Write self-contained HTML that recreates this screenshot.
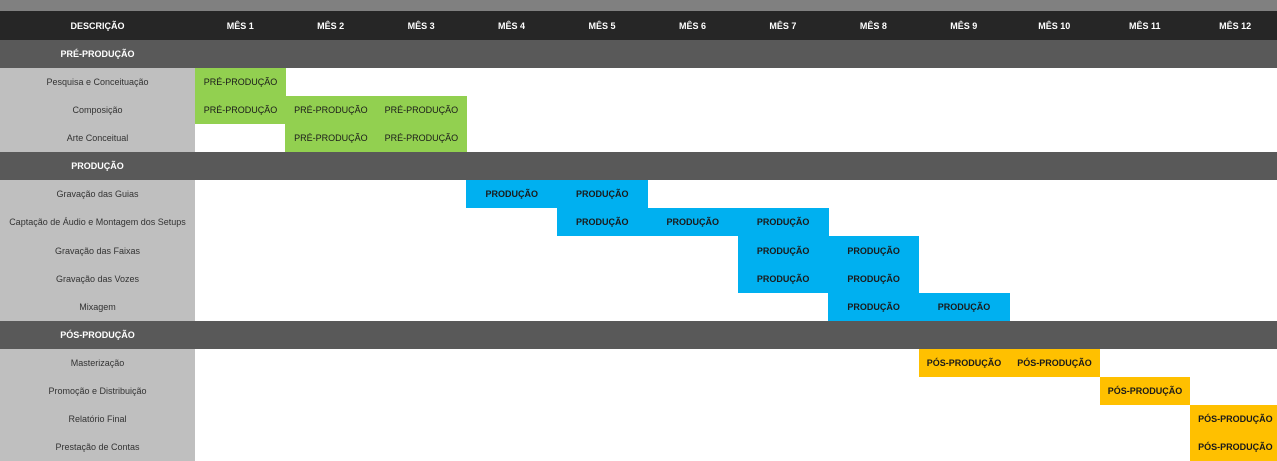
<!DOCTYPE html>
<html><head><meta charset="utf-8"><style>
body{margin:0;width:1277px;height:461px;overflow:hidden;background:#fff;position:relative;font-family:"Liberation Sans",sans-serif;font-size:9px;}
div.c{position:absolute;display:flex;align-items:center;justify-content:center;white-space:nowrap;}
</style></head><body>
<div class="c" style="left:0;top:0;width:1277px;height:11px;background:#808080"></div>
<div class="c" style="left:0;top:11px;width:1277px;height:29px;background:#262626"></div>
<script>
const R=document.body;
function box(x,y,w,h,bg,txt,col,bold){const d=document.createElement('div');d.className='c';d.style.cssText=`left:${x}px;top:${y}px;width:${w}px;height:${h}px;background:${bg};color:${col};font-weight:${bold?'bold':'normal'}`;d.textContent=txt||'';R.appendChild(d);}
const CW=90.45,X0=195,RH=28.07,Y0=40;
box(0,11,195,29,'transparent','DESCRIÇÃO','#fff',1);
for(let j=0;j<12;j++)box(X0+j*CW,11,CW,29,'transparent','MÊS '+(j+1),'#fff',1);
const G='#92d050',B='#00b0f0',O='#ffc000';
const rows=[
['S','PRÉ-PRODUÇÃO'],
['Pesquisa e Conceituação',[1],G,'PRÉ-PRODUÇÃO',0],
['Composição',[1,2,3],G,'PRÉ-PRODUÇÃO',0],
['Arte Conceitual',[2,3],G,'PRÉ-PRODUÇÃO',0],
['S','PRODUÇÃO'],
['Gravação das Guias',[4,5],B,'PRODUÇÃO',1],
['Captação de Áudio e Montagem dos Setups',[5,6,7],B,'PRODUÇÃO',1],
['Gravação das Faixas',[7,8],B,'PRODUÇÃO',1],
['Gravação das Vozes',[7,8],B,'PRODUÇÃO',1],
['Mixagem',[8,9],B,'PRODUÇÃO',1],
['S','PÓS-PRODUÇÃO'],
['Masterização',[9,10],O,'PÓS-PRODUÇÃO',1],
['Promoção e Distribuição',[11],O,'PÓS-PRODUÇÃO',1],
['Relatório Final',[12],O,'PÓS-PRODUÇÃO',1],
['Prestação de Contas',[12],O,'PÓS-PRODUÇÃO',1]];
rows.forEach((r,i)=>{const y=Y0+i*RH;
if(r[0]==='S'){box(0,y,1277,RH,'#595959','','#fff',1);box(0,y,195,RH,'transparent',r[1],'#fff',1);return;}
box(0,y,195,RH,'#bfbfbf',r[0],'#333',0);
r[1].forEach(m=>box(X0+(m-1)*CW,y,CW+0.5,RH,r[2],r[3],'#1a1a1a',r[4]));});
</script>
</body></html>
